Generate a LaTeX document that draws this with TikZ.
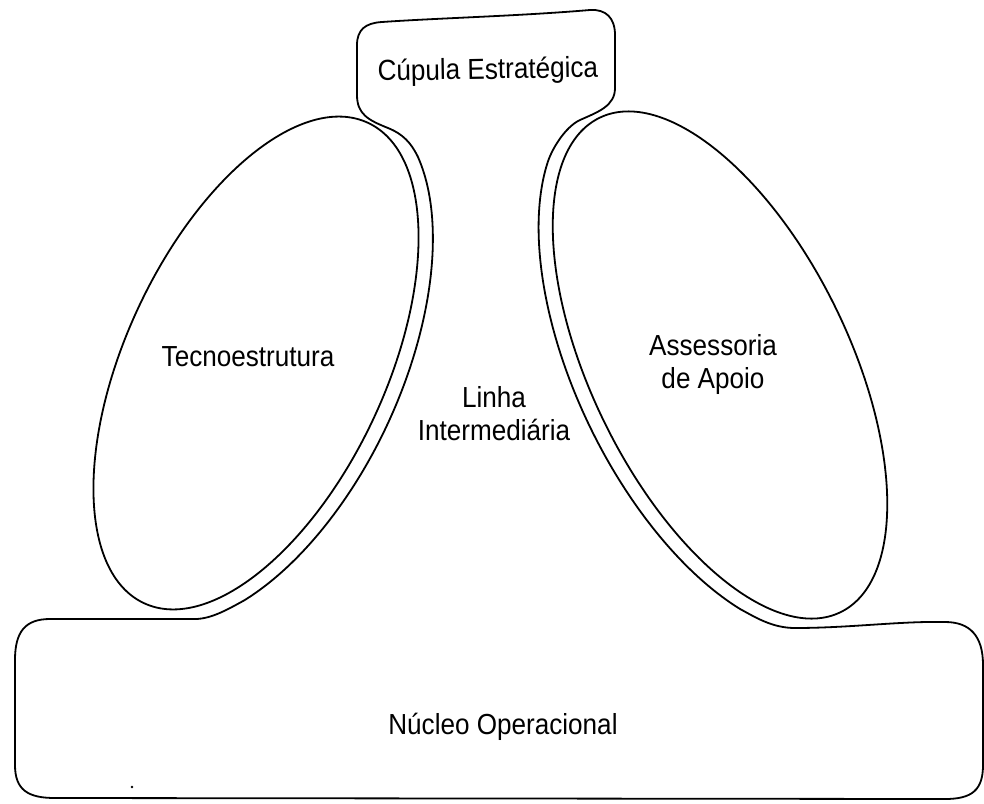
\documentclass[tikz,border=0pt]{standalone}
\usepackage{fontspec}
\setmainfont{Liberation Sans}[FakeStretch=0.9]
\usetikzlibrary{positioning}

\begin{document}
\begin{tikzpicture}[x=1pt,y=-1pt,line width=1.8pt,line join=round,line cap=round,
  lbl/.style={font=\fontsize{29}{33}\selectfont,align=center,inner sep=0pt}]
\useasboundingbox (0,0) rectangle (984,803);
% the two staff parts
\draw[rotate around={-25:(256,363)}] (256,363) ellipse [x radius=130, y radius=265];
\draw[rotate around={26:(720,365)}] (720,365) ellipse [x radius=129, y radius=275];
% middle line, running round both of them
\begin{scope}[shift={(256,363)},rotate=-25]
\draw (-66:145 and 280) coordinate (lt) arc[start angle=-66,end angle=52,x radius=145,y radius=280] coordinate (lb);
\end{scope}
\begin{scope}[shift={(720,365)},rotate=26]
\draw (-118:144 and 290) coordinate (rt) arc[start angle=-118,end angle=-232,x radius=144,y radius=290] coordinate (rb);
\end{scope}
% apex
\draw (lt) .. controls (411,143) and (403,134) .. (388,128) .. controls (368,120) and (357,114) .. (357,95) -- (357,45)
  .. controls (357,30) and (365,23) .. (382,22) .. controls (440,18) and (520,16) .. (590,10)
  .. controls (606,9) and (615,18) .. (615,35) -- (615,88) .. controls (615,106) and (598,112) .. (580,120)
  .. controls (565,127) and (551,150) .. (rt);
% base
\draw (lb) .. controls (230,608) and (212,619) .. (195,619) -- (50,619) .. controls (25,619) and (15,632) .. (15,660)
  -- (15,765) .. controls (15,790) and (28,798) .. (55,798) -- (945,799) .. controls (972,799) and (983,790) .. (983,765)
  -- (983,665) .. controls (983,636) and (970,622) .. (945,622) .. controls (900,621) and (850,628) .. (795,628)
  .. controls (772,628) and (755,617) .. (rb);
\node[lbl,anchor=base,rotate=1] (cupula) at (488,79) {Cúpula Estratégica};
\node[lbl,anchor=base] (tecno) at (248,366) {Tecnoestrutura};
\node[lbl] (apoio) at (713,364) {Assessoria\\de Apoio};
\node[lbl] (linha) at (494,414) {Linha\\Intermediária};
\node[lbl,anchor=base] (nucleo) at (503,734) {Núcleo Operacional};
\fill (132,787) circle (1.3pt);
\end{tikzpicture}
\end{document}
